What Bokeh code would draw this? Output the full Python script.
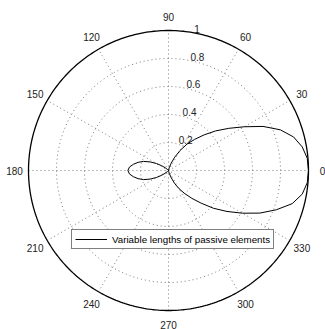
import numpy as np
from bokeh.plotting import figure
from bokeh.models import Legend, LegendItem
from bokeh.core.properties import value
from bokeh.embed import file_html
from bokeh.resources import INLINE

# ---- data ----
theta_deg = list(range(0, 360, 5))
r_pattern = [
    1.00, 0.995, 0.97, 0.925, 0.85, 0.745, 0.625, 0.525, 0.44, 0.36,   # 0-45
    0.29, 0.23, 0.165, 0.105, 0.055, 0.02, 0.005, 0.0, 0.0, 0.0,        # 50-95
    0.0, 0.0, 0.0, 0.0, 0.0, 0.0, 0.0, 0.01, 0.03, 0.06,                # 100-145
    0.10, 0.145, 0.19, 0.225, 0.255, 0.28, 0.29, 0.28, 0.255, 0.225,    # 150-195
    0.19, 0.145, 0.10, 0.06, 0.03, 0.01, 0.0, 0.0, 0.0, 0.0,            # 200-245
    0.0, 0.0, 0.0, 0.0, 0.0, 0.0, 0.005, 0.02, 0.05, 0.10,              # 250-295
    0.15, 0.20, 0.26, 0.33, 0.42, 0.51, 0.61, 0.72, 0.82, 0.915,        # 300-345
    0.97, 0.995,                                                        # 350-355
]
series_name = "Variable lengths of passive elements"
r_ticks = [0.2, 0.4, 0.6, 0.8, 1.0]
r_tick_labels = ["0.2", "0.4", "0.6", "0.8", "1"]
angle_ticks = [0, 30, 60, 90, 120, 150, 180, 210, 240, 270, 300, 330]
angle_labels = [str(a) for a in angle_ticks]

# ---- layout ----
W, H = 325, 329
PX = 140.0           # pixels per unit radius
cx, cy = 168, 170    # centre in figure pixels (from top-left)
x0, x1 = -cx / PX, (W - cx) / PX
y0, y1 = -(H - cy) / PX, cy / PX

p = figure(width=W, height=H, x_range=(x0, x1), y_range=(y0, y1),
           output_backend="svg", toolbar_location=None, min_border=0,
           background_fill_color="white", border_fill_color="white")
p.axis.visible = False
p.grid.visible = False
p.outline_line_color = None

FONT_NAME = "Liberation Sans"
FONT = value(FONT_NAME)
GRID_COL = "#7a7a7a"

# dotted grid circles
t = np.linspace(0, 2 * np.pi, 361)
for r in r_ticks[:-1]:
    p.line(r * np.cos(t), r * np.sin(t), line_color=GRID_COL, line_width=1,
           line_dash="1 3")
# spokes (full diameters)
for a in angle_ticks[:6]:
    ar = np.deg2rad(a)
    p.segment(x0=[-np.cos(ar)], y0=[-np.sin(ar)], x1=[np.cos(ar)], y1=[np.sin(ar)],
              line_color=GRID_COL, line_width=1, line_dash="1 3")
# outer circle
p.line(np.cos(t), np.sin(t), line_color="black", line_width=1.3)

# radius labels
ang_r = np.deg2rad(82)
p.text(x=[r * np.cos(ang_r) + 0.045 for r in r_ticks],
       y=[r * np.sin(ang_r) + 0.022 for r in r_ticks],
       text=r_tick_labels, text_font=FONT, text_font_size="10px",
       text_color="#222222", text_align="left", text_baseline="alphabetic")

# angle labels
lx, ly = [], []
for a in angle_ticks:
    ar = np.deg2rad(a)
    x = 1.1 * np.cos(ar)
    y = 1.1 * np.sin(ar)
    x = min(max(x, x0 + 9 / PX), x1 - 3 / PX)
    y = min(max(y, y0 + 5 / PX), y1 - 5 / PX)
    lx.append(x)
    ly.append(y)
p.text(x=lx, y=ly, text=angle_labels, text_font=FONT, text_font_size="10px",
       text_color="#222222", text_align="center", text_baseline="middle")

# pattern curve
th = np.deg2rad(np.array(theta_deg + [360]))
rr = np.array(r_pattern + [r_pattern[0]])
curve = p.line(rr * np.cos(th), rr * np.sin(th), line_color="black", line_width=1)

legend = Legend(items=[LegendItem(label=series_name, renderers=[curve])],
                location=(71, 80), padding=3, margin=0, spacing=0,
                glyph_width=32, glyph_height=12, label_height=12,
                label_standoff=5, label_text_font=FONT_NAME,
                label_text_font_size="9.75px", label_text_color="black",
                border_line_color="black", border_line_width=1.2,
                background_fill_color="white", background_fill_alpha=1.0)
p.add_layout(legend, "center")

open("out.html", "w").write(file_html(p, INLINE))
